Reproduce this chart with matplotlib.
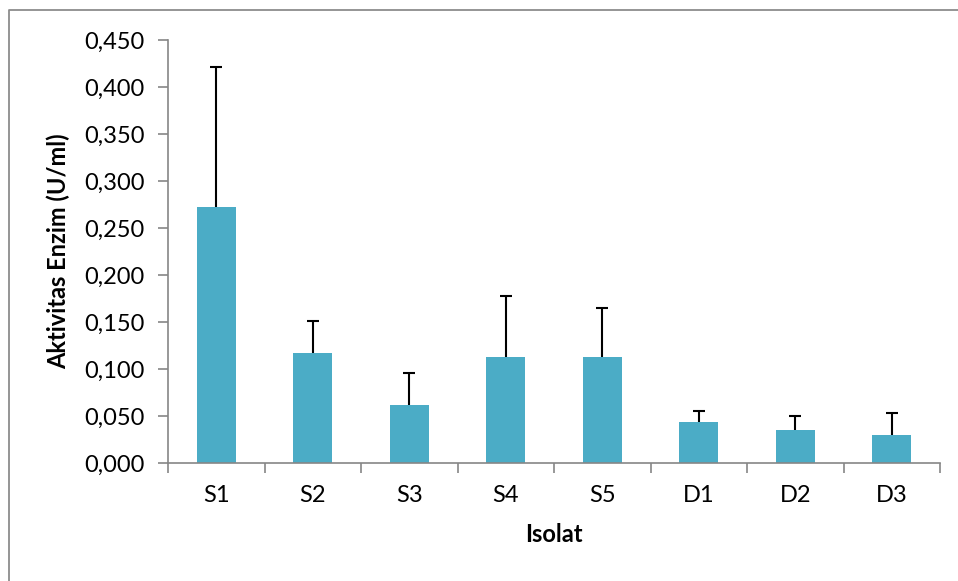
import matplotlib
matplotlib.use("Agg")
import matplotlib.pyplot as plt
from matplotlib.lines import Line2D
from matplotlib.ticker import FuncFormatter, MultipleLocator

categories = ["S1", "S2", "S3", "S4", "S5", "D1", "D2", "D3"]
values = [0.272, 0.117, 0.062, 0.113, 0.113, 0.044, 0.035, 0.030]
errors = [0.149, 0.034, 0.034, 0.065, 0.052, 0.011, 0.015, 0.023]

plt.rcParams['font.family'] = ['Lato', 'DejaVu Sans']

fig = plt.figure(figsize=(9.58, 5.81), dpi=100)
fig.patch.set_facecolor("white")
# outer chart-area border: only top and left edges are visible in the reference
bx, by = 8.5/958, 1 - 9.5/581
fig.lines.append(Line2D([bx, bx, 1.0], [0.0, by, by], transform=fig.transFigure,
                        color="#8c8c8c", linewidth=1.3))

ax = fig.add_axes([168/958, 118/581, (940-168)/958, (463-40)/581])
ax.set_facecolor("none")
x = list(range(len(categories)))
ax.bar(x, values, width=0.40, color="#4BACC6", zorder=2)
eb = ax.errorbar(x, values, yerr=[[0]*len(errors), errors], fmt="none",
                 ecolor="black", elinewidth=1.5, capsize=4.3, capthick=1.5, zorder=3)
if len(eb[1]) == 2:
    eb[1][0].set_visible(False)

ax.set_xlim(-0.5, len(categories) - 0.5)
ax.set_ylim(0, 0.45)
ax.yaxis.set_major_locator(MultipleLocator(0.05))
ax.yaxis.set_major_formatter(FuncFormatter(lambda v, p: f"{v:.3f}".replace(".", ",")))
ax.set_xticks([i - 0.5 for i in range(len(categories) + 1)])
ax.set_xticklabels([])
ax.set_xticks(x, minor=True)
ax.set_xticklabels(categories, minor=True)
ax.tick_params(axis="x", which="major", length=7, width=1.2, color="#868686", direction="out")
ax.tick_params(axis="x", which="minor", length=0, pad=16, labelsize=17)
ax.tick_params(axis="y", length=7, width=1.2, color="#868686", labelsize=17, pad=10)
for s in ["top", "right"]:
    ax.spines[s].set_visible(False)
for s in ["left", "bottom"]:
    ax.spines[s].set_color("#868686")
    ax.spines[s].set_linewidth(1.2)

ax.set_ylabel("Aktivitas Enzim (U/ml)", fontsize=17, fontweight="bold", labelpad=10)
ax.set_xlabel("Isolat", fontsize=17, fontweight="bold", labelpad=12)

fig.savefig("out.png", dpi=100)
